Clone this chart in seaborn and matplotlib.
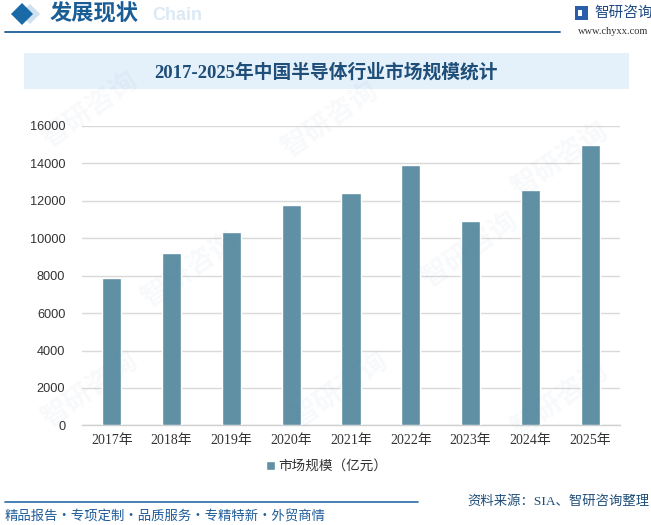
import matplotlib
matplotlib.use("Agg")
import matplotlib.pyplot as plt
from matplotlib.patches import Polygon, Rectangle
from matplotlib.lines import Line2D
import seaborn as sns
import pandas as pd

# ---- data ----
years = ["2017年", "2018年", "2019年", "2020年", "2021年", "2022年", "2023年", "2024年", "2025年"]
market_size = [7880, 9220, 10330, 11770, 12410, 13910, 10920, 12570, 15000]
series_name = "市场规模（亿元）"
title = "2017-2025年中国半导体行业市场规模统计"
y_ticks = [0, 2000, 4000, 6000, 8000, 10000, 12000, 14000, 16000]

sns.set_theme(style="white")
plt.rcParams["font.family"] = ["Noto Sans CJK SC", "DejaVu Sans"]

W, H = 651, 525
fig = plt.figure(figsize=(W / 100, H / 100), dpi=100)
fig.patch.set_facecolor("white")

def fx(x):
    return x / W

def fy(y):
    return 1 - y / H

# ---- axes ----
ax_l, ax_r, ax_t, ax_b = 82, 620, 126, 425.4
ax = fig.add_axes([fx(ax_l), fy(ax_b), (ax_r - ax_l) / W, (ax_b - ax_t) / H])
ax.set_facecolor("none")

df = pd.DataFrame({"year": years, "value": market_size})
bar_color = "#5f90a4"
sns.barplot(data=df, x="year", y="value", color=bar_color, width=0.32,
            saturation=1, label=series_name, ax=ax, zorder=3)

ax.set_ylim(0, 16000)
ax.set_xlim(-0.5, len(years) - 0.5)
ax.set_yticks(y_ticks)
ax.set_yticklabels([str(v) for v in y_ticks], fontsize=9.2,
                   family=["Liberation Sans", "DejaVu Sans"], color="#333333")
ax.set_xticks(range(len(years)))
ax.set_xticklabels(years, fontsize=10, family=["Liberation Serif", "Noto Sans CJK SC"], color="#333333")
ax.tick_params(axis="y", length=0, pad=12)
ax.tick_params(axis="x", length=0, pad=6)
ax.set_xlabel("")
ax.set_ylabel("")
ax.yaxis.grid(True, color="#d9d9d9", linewidth=1)
ax.set_axisbelow(True)
for s in ["top", "right", "left"]:
    ax.spines[s].set_visible(False)
ax.spines["bottom"].set_color("#d0d0d0")
ax.spines["bottom"].set_linewidth(1)

leg = ax.legend(loc="center", frameon=False,
                prop={"family": ["Noto Sans CJK SC"], "size": 9.8},
                handlelength=0.6, handleheight=0.6, handletextpad=0.3)
leg.set_bbox_to_anchor((fx(327), fy(466)), transform=fig.transFigure)
for t in leg.get_texts():
    t.set_color("#333333")

# ---- watermarks (faint) ----
wm_positions = [(90, 110), (330, 120), (560, 160), (190, 270), (470, 250),
                (90, 390), (340, 390), (560, 400)]
for (x, y) in wm_positions:
    fig.text(fx(x), fy(y), "智研咨询", fontsize=20, color="#5a7fa8", alpha=0.045,
             rotation=35, ha="center", va="center", fontweight="bold", zorder=0)

# ---- header ----
fig.add_artist(Polygon([[fx(30), fy(4)], [fx(40), fy(14)], [fx(30), fy(24)], [fx(20), fy(14)]],
                       closed=True, transform=fig.transFigure, facecolor="#cfe0ee", edgecolor="none"))
fig.add_artist(Polygon([[fx(22), fy(3)], [fx(33), fy(14)], [fx(22), fy(25)], [fx(11), fy(14)]],
                       closed=True, transform=fig.transFigure, facecolor="#1a6aa8", edgecolor="none"))
fig.text(fx(152), fy(16), "Chain", fontsize=13, color="#dce9f4", fontweight="bold",
         ha="left", va="center", family=["Liberation Sans"], zorder=1)
fig.text(fx(50), fy(14), "发展现状", fontsize=16, color="#1b5e96", fontweight="bold",
         ha="left", va="center", zorder=2)
fig.add_artist(Line2D([fx(5), fx(560)], [fy(32), fy(32)], transform=fig.transFigure,
                      color="#1b5e96", linewidth=1.3))

# logo
fig.add_artist(Rectangle((fx(575), fy(20)), 13 / W, 14 / H, transform=fig.transFigure,
                         facecolor="#2a5ea8", edgecolor="none"))
fig.add_artist(Rectangle((fx(578), fy(16)), 4 / W, 6 / H, transform=fig.transFigure,
                         facecolor="white", edgecolor="none"))
fig.text(fx(594), fy(13), "智研咨询", fontsize=10.5, color="#1f4a85", ha="left", va="center")
fig.text(fx(648), fy(32), "www.chyxx.com", fontsize=7.5, color="#333333", ha="right", va="center",
         family=["Liberation Serif"])

# ---- title box ----
fig.add_artist(Rectangle((fx(24), fy(89)), (629 - 24) / W, (89 - 53) / H, transform=fig.transFigure,
                         facecolor="#e4f0fa", edgecolor="none", zorder=0))
fig.text(fx(326), fy(72), title, fontsize=13.5, color="#1f4e79", fontweight="bold",
         ha="center", va="center", family=["Liberation Serif", "Noto Sans CJK SC"])

# ---- footer ----
fig.add_artist(Line2D([fx(5), fx(418)], [fy(502), fy(502)], transform=fig.transFigure,
                      color="#2a6aa5", linewidth=1.2))
fig.text(fx(5), fy(517), "精品报告・专项定制・品质服务・专精特新・外贸商情", fontsize=9.6,
         color="#1f5c99", ha="left", va="center")
fig.text(fx(649), fy(502), "资料来源：SIA、智研咨询整理", fontsize=9.6, color="#1f4e79",
         ha="right", va="center", family=["Liberation Serif", "Noto Sans CJK SC"])

fig.savefig("out.png", dpi=100, facecolor="white")
